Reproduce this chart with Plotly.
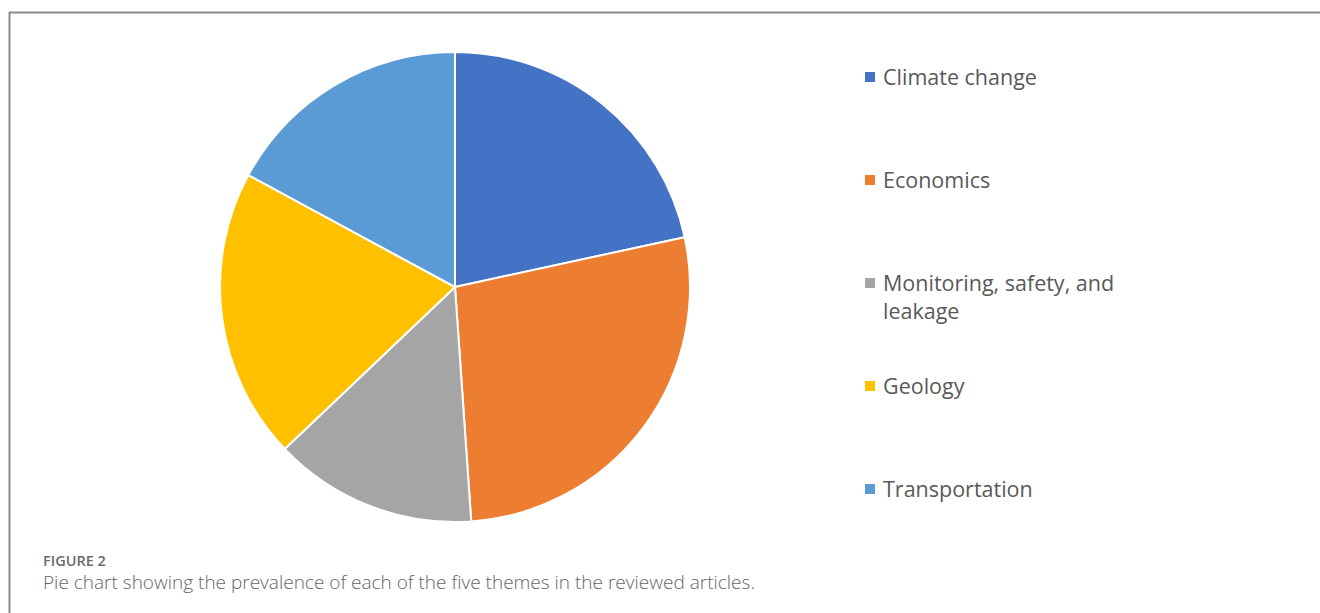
import plotly.graph_objects as go

W, H = 1320, 613

categories = ["Climate change", "Economics", "Monitoring, safety, and leakage", "Geology", "Transportation"]
legend_labels = ["Climate change", "Economics", "Monitoring, safety, and<br>leakage", "Geology", "Transportation"]
values = [21.6, 27.3, 14.0, 20.0, 17.1]
colors = ["#4472C4", "#ED7D31", "#A5A5A5", "#FFC000", "#5B9BD5"]

def px_x(x):
    return x / W

def px_y(y):
    return 1 - y / H

fig = go.Figure()
fig.add_trace(go.Pie(
    labels=categories,
    values=values,
    sort=False,
    direction="clockwise",
    rotation=0,
    marker=dict(colors=colors, line=dict(color="white", width=2)),
    textinfo="none",
    showlegend=False,
    domain=dict(x=[px_x(220), px_x(690)], y=[px_y(522), px_y(52)]),
))

shapes = []
annotations = []
legend_y = [77, 180, 283, 386, 489]
for lab, col, y in zip(legend_labels, colors, legend_y):
    shapes.append(dict(type="rect", xref="paper", yref="paper",
                       x0=px_x(865), x1=px_x(875), y0=px_y(y + 5), y1=px_y(y - 5),
                       fillcolor=col, line=dict(width=0)))
    annotations.append(dict(text=lab, xref="paper", yref="paper",
                            x=px_x(881), y=px_y(y - 17), xanchor="left", yanchor="top",
                            align="left", showarrow=False,
                            font=dict(family="Open Sans", size=21.5, color="#595959")))

# frame
shapes.append(dict(type="line", xref="paper", yref="paper", x0=px_x(9), x1=1, y0=px_y(12.5), y1=px_y(12.5),
                   line=dict(color="#8a8a8a", width=2)))
shapes.append(dict(type="line", xref="paper", yref="paper", x0=px_x(9.5), x1=px_x(9.5), y0=px_y(12), y1=0,
                   line=dict(color="#8a8a8a", width=2)))

annotations.append(dict(text="FIGURE 2", xref="paper", yref="paper", x=px_x(41), y=px_y(560),
                        xanchor="left", yanchor="middle", showarrow=False,
                        font=dict(family="Open Sans", size=14.5, color="#6b6b6b", weight=600)))
annotations.append(dict(text="Pie chart showing the prevalence of each of the five themes in the reviewed articles.",
                        xref="paper", yref="paper", x=px_x(41), y=px_y(582),
                        xanchor="left", yanchor="middle", showarrow=False,
                        font=dict(family="Open Sans", size=19, color="#666666", weight=300)))

fig.update_layout(width=W, height=H, margin=dict(l=0, r=0, t=0, b=0),
                  paper_bgcolor="white", plot_bgcolor="white",
                  shapes=shapes, annotations=annotations)

fig.write_html("out.html")
